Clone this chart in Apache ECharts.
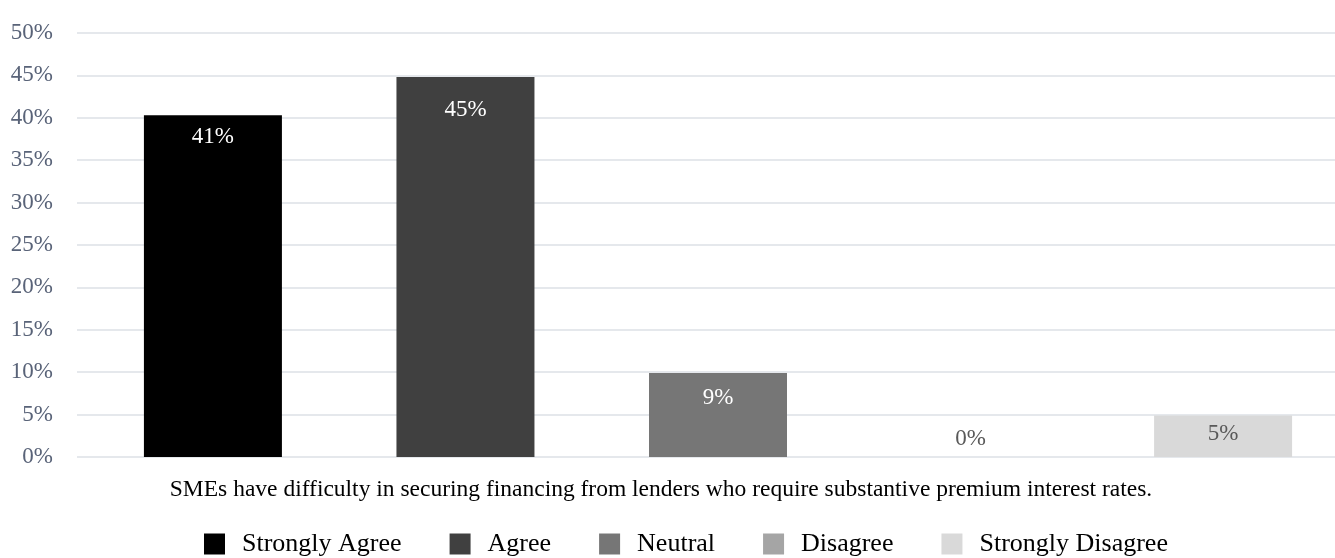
<!DOCTYPE html>
<html><head><meta charset="utf-8">
<script src="https://cdn.jsdelivr.net/npm/echarts@6/dist/echarts.min.js"></script>
<style>html,body{margin:0;padding:0;background:#fff}#c{width:1335px;height:558px}</style>
</head><body><div id="c"></div>
<script>
const categoryTitle = "SMEs have difficulty in securing financing from lenders who require substantive premium interest rates.";
const seriesNames = ["Strongly Agree", "Agree", "Neutral", "Disagree", "Strongly Disagree"];
const barValues = [40.3, 44.8, 9.9, 0, 4.9];
const barLabels = ["41%", "45%", "9%", "0%", "5%"];
const yTicks = [0, 5, 10, 15, 20, 25, 30, 35, 40, 45, 50];

const colors = ["#000000", "#404040", "#767676", "#a5a5a5", "#d9d9d9"];
const labelColors = ["#ffffff", "#ffffff", "#ffffff", "#595959", "#595959"];
const FONT = "Liberation Serif";

const chart = echarts.init(document.getElementById('c'));
const series = seriesNames.map((n, i) => ({
  name: n,
  type: 'bar',
  data: [barValues[i]],
  barWidth: 138,
  barGap: '83%',
  itemStyle: { color: colors[i] },
  label: {
    show: true,
    position: barValues[i] === 0 ? 'insideBottom' : 'insideTop',
    distance: [10, 21, 13, 7, 7][i],
    formatter: () => barLabels[i],
    color: labelColors[i],
    fontFamily: FONT,
    fontSize: 23
  }
}));

chart.setOption({
  animation: false,
  textStyle: { fontFamily: FONT },
  grid: { left: 77, top: 33, width: 1282, bottom: 101, containLabel: false, outerBoundsMode: 'none' },
  xAxis: {
    type: 'category',
    data: [categoryTitle],
    axisLine: { show: false },
    axisTick: { show: false },
    axisLabel: { show: false }
  },
  yAxis: {
    type: 'value',
    min: yTicks[0],
    max: yTicks[yTicks.length - 1],
    interval: 5,
    axisLine: { show: false },
    axisTick: { show: false },
    splitLine: { lineStyle: { color: '#dde1e6', width: 1.5 } },
    axisLabel: {
      formatter: v => v + '%',
      color: '#596378',
      fontFamily: FONT,
      fontSize: 23,
      margin: 24
    }
  },
  legend: {
    data: seriesNames,
    left: 204,
    top: 531,
    padding: 0,
    itemWidth: 21,
    itemHeight: 21,
    itemGap: 48,
    icon: 'rect',
    textStyle: { fontFamily: FONT, fontSize: 26, color: '#000', padding: [0, 0, 0, 12] }
  },
  graphic: [{
    type: 'text',
    x: 661,
    y: 490,
    style: {
      text: categoryTitle,
      textAlign: 'center',
      textVerticalAlign: 'middle',
      font: '23.5px "' + FONT + '"',
      fill: '#000'
    }
  }],
  series: series
});
</script>
</body></html>
